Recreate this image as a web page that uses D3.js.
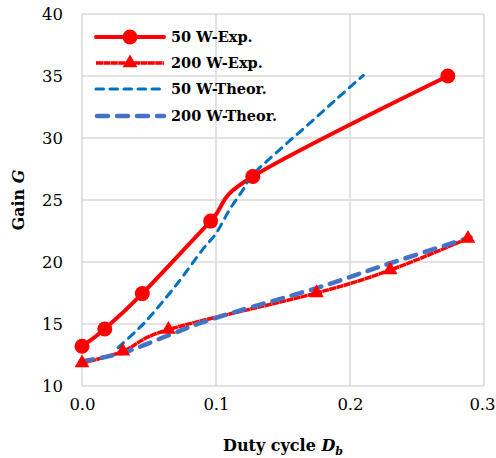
<!DOCTYPE html>
<html><head><meta charset="utf-8">
<script src="https://cdn.jsdelivr.net/npm/d3@7"></script>
<style>body{margin:0;background:#fff}svg{display:block}</style>
</head><body><svg id="c" width="496" height="458"></svg>
<script>
const seriesNames = ["50 W-Exp.", "200 W-Exp.", "50 W-Theor.", "200 W-Theor."];
const exp50X = [0.0, 0.017, 0.045, 0.096, 0.1275, 0.273];
const exp50Y = [13.2, 14.6, 17.45, 23.3, 26.9, 35.0];
const exp200X = [0.0, 0.0305, 0.0645, 0.175, 0.23, 0.288];
const exp200Y = [11.85, 12.8, 14.55, 17.5, 19.35, 21.9];
const th50X = [0.027, 0.04, 0.05, 0.07, 0.09, 0.1, 0.11, 0.12, 0.128, 0.15, 0.17, 0.19, 0.21];
const th50Y = [13.1, 14.4, 15.5, 18.1, 21.0, 22.3, 24.2, 25.8, 27.1, 29.3, 31.2, 33.15, 35.05];
const th200X = [0.0, 0.031, 0.065, 0.1, 0.175, 0.23, 0.29];
const th200Y = [12.0, 12.7, 14.1, 15.5, 17.9, 19.9, 22.0];
const xTicks = [0.0, 0.1, 0.2, 0.3];
const yTicks = [10, 15, 20, 25, 30, 35, 40];

const svg = d3.select("#c");
const L = 82, R = 484, T = 14, B = 386;
const x = d3.scaleLinear().domain([0, 0.3]).range([L, R]);
const y = d3.scaleLinear().domain([10, 40]).range([B, T]);
const serif = "'DejaVu Serif', serif";
const grid = "#d9d9d9";

svg.append("g").selectAll("line").data(yTicks).join("line")
  .attr("x1", L).attr("x2", R).attr("y1", d => y(d)).attr("y2", d => y(d))
  .attr("stroke", grid).attr("stroke-width", 1.5);
svg.append("g").selectAll("line").data(xTicks).join("line")
  .attr("y1", T).attr("y2", B).attr("x1", d => x(d)).attr("x2", d => x(d))
  .attr("stroke", grid).attr("stroke-width", 1.5);

const yAxis = svg.append("g").attr("transform", `translate(${L},0)`)
  .call(d3.axisLeft(y).tickValues(yTicks).tickSize(0).tickPadding(19).tickFormat(d3.format("d")));
const xAxis = svg.append("g").attr("transform", `translate(0,${B})`)
  .call(d3.axisBottom(x).tickValues(xTicks).tickSize(0).tickPadding(19).tickFormat(d3.format(".1f")));
[yAxis, xAxis].forEach(g => {
  g.select(".domain").remove();
  g.selectAll("text").attr("font-family", serif).attr("font-size", 16.5).attr("fill", "#000");
});
xAxis.selectAll("text").attr("dy", "0.3em");
xAxis.selectAll("text").filter(d => d === 0.3).attr("dx", -2);

const pts = (xs, ys) => xs.map((v, i) => [v, ys[i]]);
const line = d3.line().x(d => x(d[0])).y(d => y(d[1])).curve(d3.curveCatmullRom.alpha(0));

const d50 = pts(exp50X, exp50Y), d200 = pts(exp200X, exp200Y);
const t50 = pts(th50X, th50Y), t200 = pts(th200X, th200Y);

svg.append("path").attr("d", line(d200)).attr("fill", "none").attr("stroke", "#ff0000")
  .attr("stroke-width", 3.5).attr("stroke-dasharray", "7,0.4").attr("stroke-linecap", "butt");
svg.append("path").attr("d", line(t200)).attr("fill", "none").attr("stroke", "#4472c4")
  .attr("stroke-width", 4.5).attr("stroke-dasharray", "11,9").attr("stroke-linecap", "round");
svg.append("path").attr("d", line(d50)).attr("fill", "none").attr("stroke", "#ff0000")
  .attr("stroke-width", 4);
svg.append("path").attr("d", line(t50)).attr("fill", "none").attr("stroke", "#0070c0")
  .attr("stroke-width", 3).attr("stroke-dasharray", "7.5,6.5").attr("stroke-linecap", "round");

svg.append("g").selectAll("circle").data(d50).join("circle")
  .attr("cx", d => x(d[0])).attr("cy", d => y(d[1])).attr("r", 7.5).attr("fill", "#ff0000");
const tri = d3.symbol().type(d3.symbolTriangle).size(95);
svg.append("g").selectAll("path").data(d200).join("path")
  .attr("d", tri).attr("transform", d => `translate(${x(d[0])},${y(d[1])})`).attr("fill", "#ff0000");

const lg = svg.append("g");
const rows = [37, 63, 89, 116];
const lx1 = 96, lx2 = 164;
lg.append("line").attr("x1", lx1).attr("x2", lx2).attr("y1", rows[0]).attr("y2", rows[0])
  .attr("stroke", "#ff0000").attr("stroke-width", 4).attr("stroke-linecap", "round");
lg.append("circle").attr("cx", 130).attr("cy", rows[0]).attr("r", 7.5).attr("fill", "#ff0000");
lg.append("line").attr("x1", lx1).attr("x2", lx2).attr("y1", rows[1]).attr("y2", rows[1])
  .attr("stroke", "#ff0000").attr("stroke-width", 3.5).attr("stroke-dasharray", "7,0.4");
lg.append("path").attr("d", tri).attr("transform", `translate(130,${rows[1]})`).attr("fill", "#ff0000");
lg.append("line").attr("x1", lx1).attr("x2", lx2).attr("y1", rows[2]).attr("y2", rows[2])
  .attr("stroke", "#0070c0").attr("stroke-width", 3).attr("stroke-dasharray", "7.5,6.5").attr("stroke-linecap", "round");
lg.append("line").attr("x1", lx1 + 1).attr("x2", lx2).attr("y1", rows[3]).attr("y2", rows[3])
  .attr("stroke", "#4472c4").attr("stroke-width", 4.5).attr("stroke-dasharray", "11,9").attr("stroke-linecap", "round");
lg.selectAll("text").data(seriesNames).join("text")
  .attr("x", 171).attr("y", (d, i) => rows[i]).attr("dy", "0.35em")
  .attr("font-family", serif).attr("font-weight", "bold").attr("font-size", 14.5).text(d => d);

const xt = svg.append("text").attr("x", 283).attr("y", 451).attr("text-anchor", "middle")
  .attr("font-family", serif).attr("font-weight", "bold").attr("font-size", 16);
xt.append("tspan").text("Duty cycle ");
xt.append("tspan").attr("font-style", "italic").text("D");
xt.append("tspan").attr("font-style", "italic").attr("font-size", 11).attr("dy", 4).text("b");
const yt = svg.append("text").attr("transform", "translate(24,200) rotate(-90)").attr("text-anchor", "middle")
  .attr("font-family", serif).attr("font-weight", "bold").attr("font-size", 16);
yt.append("tspan").text("Gain ");
yt.append("tspan").attr("font-style", "italic").text("G");
</script></body></html>
